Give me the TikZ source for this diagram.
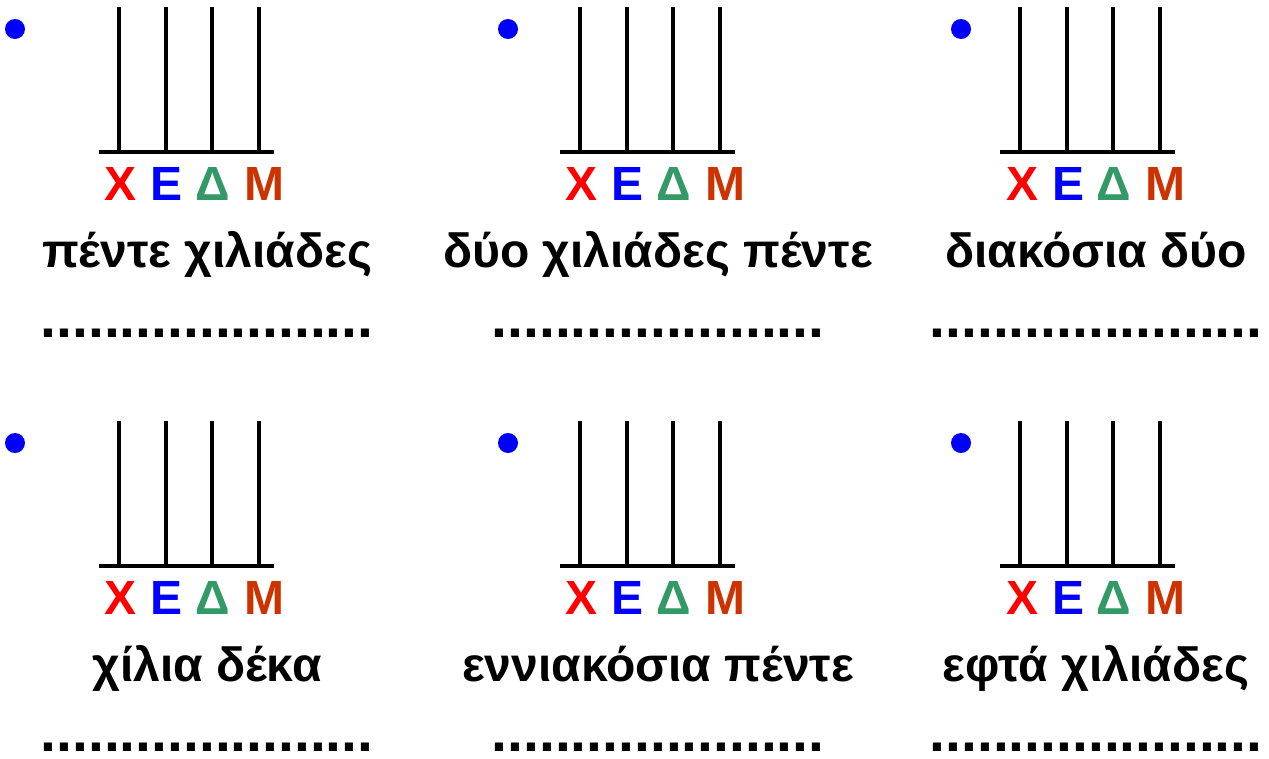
\documentclass[tikz,border=0pt]{standalone}
\usepackage{fontspec}
\setmainfont{Liberation Sans}
\definecolor{tensgreen}{HTML}{339966}
\definecolor{unitsred}{HTML}{CC3300}
\tikzset{
  rod/.style={line width=3.5pt},
  place/.style={inner sep=0pt,anchor=base,font=\fontsize{48}{48}\selectfont\bfseries},
  word/.style={inner sep=0pt,anchor=base,font=\fontsize{48}{48}\selectfont\bfseries},
  blank/.style={inner sep=0pt,anchor=base,font=\fontsize{57}{57}\selectfont\bfseries},
}

\begin{document}
\begin{tikzpicture}[x=1pt,y=-1pt]
  \useasboundingbox (0,0) rectangle (1269,758);
  \foreach \dx/\rx/\tx/\oy/\word [count=\i] in {
      15/119/207/0/πέντε χιλιάδες, 508/580/658/0/δύο χιλιάδες πέντε, 961/1020/1096/0/διακόσια δύο,
      15/119/207/414/χίλια δέκα, 508/580/658/414/εννιακόσια πέντε, 961/1020/1096/414/εφτά χιλιάδες} {
    \fill[blue] (\dx,29+\oy) circle (10pt);
    \draw[rod] (\rx-20,152+\oy) -- (\rx+155,152+\oy);
    \foreach \k in {0,47,93,140}
      \draw[rod] (\rx+\k,7+\oy) -- (\rx+\k,152+\oy);
    \node[place,red] (ch\i) at (\rx+2,200+\oy) {Χ};
    \node[place,blue] (ek\i) at (\rx+48,200+\oy) {Ε};
    \node[place,tensgreen] (de\i) at (\rx+94,200+\oy) {Δ};
    \node[place,unitsred] (mo\i) at (\rx+145,200+\oy) {Μ};
    \node[word] (w\i) at (\tx,267+\oy) {\word};
    \node[blank] (b\i) at (\tx,337+\oy) {.....................};
  }
\end{tikzpicture}
\end{document}
